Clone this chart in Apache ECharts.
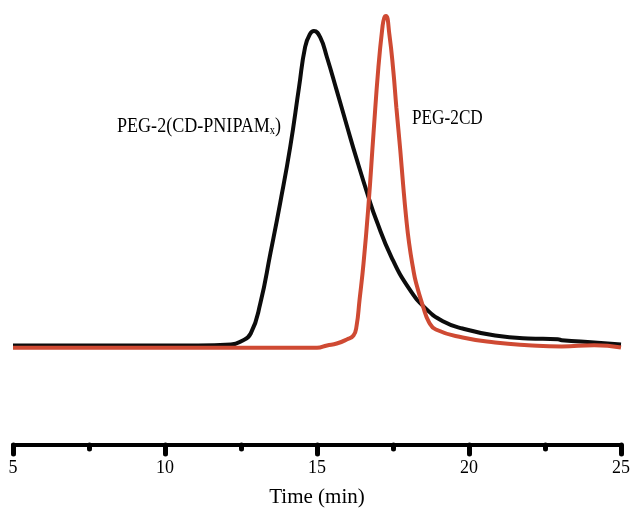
<!DOCTYPE html>
<html>
<head>
<meta charset="utf-8">
<script src="https://cdn.jsdelivr.net/npm/echarts@6/dist/echarts.min.js"></script>
<style>
html,body{margin:0;padding:0;background:#fff;}
#chart{width:633px;height:513px;}
</style>
</head>
<body>
<div id="chart"></div>
<script>
// PEG-2(CD-PNIPAMx) trace (black)
const blackTime = [5, 11.09, 12.17, 12.49, 12.82, 13.14, 13.47, 13.79, 14.12, 14.41, 14.61, 14.77, 14.90, 15.10, 15.33, 15.65, 15.98, 16.30, 16.69, 16.95, 17.44, 18.03, 18.58, 19.14, 19.79, 20.86, 21.94, 22.92, 23.05, 24.12, 25];
const blackSignal = [0.7, 0.7, 1.0, 1.9, 4.3, 13.6, 28.6, 43.7, 60.6, 78.6, 90.7, 94.6, 95.5, 93.7, 87.5, 77.5, 67.0, 57.0, 45.5, 38.5, 27.5, 17.8, 11.8, 8.0, 5.8, 3.7, 2.8, 2.6, 2.3, 1.6, 1.0];
// PEG-2CD trace (red)
const redTime = [5, 10, 15, 15.33, 15.65, 15.98, 16.20, 16.30, 16.40, 16.53, 16.69, 16.86, 17.02, 17.15, 17.21, 17.27, 17.38, 17.51, 17.61, 17.74, 17.83, 17.93, 18.03, 18.16, 18.26, 18.49, 18.68, 18.91, 19.79, 20.86, 21.94, 23.05, 24.12, 25];
const redSignal = [0, 0, 0, 0.7, 1.3, 2.5, 3.7, 6.5, 14.5, 25.4, 42.6, 64.8, 84.6, 96.4, 99.4, 100, 94.5, 83.5, 72.5, 59.5, 49.5, 39.5, 31.5, 24.0, 19.5, 12.4, 7.8, 5.5, 3.1, 1.6, 0.8, 0.4, 0.8, 0.1];
const xTicksMajor = [5, 10, 15, 20, 25];
const labelBlack = 'PEG-2(CD-PNIPAM{sub|x})';
const labelRed = 'PEG-2CD';
const xName = 'Time (min)';

const pair = (xs, ys) => xs.map((x, i) => [x, ys[i]]);

const chart = echarts.init(document.getElementById('chart'), null, {renderer: 'canvas'});
const FONT = '"Liberation Serif", "Times New Roman", serif';

chart.setOption({
  animation: false,
  backgroundColor: '#ffffff',
  grid: {left: 13, right: 6, top: 16, bottom: 65, containLabel: false},
  xAxis: [{
    type: 'value', min: 5, max: 25, interval: 5, position: 'bottom',
    axisLine: {show: true, onZero: false, lineStyle: {color: '#000', width: 4}},
    axisTick: {show: true, length: 9, lineStyle: {color: '#000', width: 5, cap: 'round'}},
    axisLabel: {show: true, margin: 14, color: '#000', fontFamily: FONT, fontSize: 18,
      formatter: v => (xTicksMajor.indexOf(v) >= 0 ? String(v) : '')},
    splitLine: {show: false},
    name: xName, nameLocation: 'middle', nameGap: 42,
    nameTextStyle: {color: '#000', fontFamily: FONT, fontSize: 21}
  }, {
    type: 'value', min: 5, max: 25, interval: 2.5, position: 'bottom', offset: 0,
    axisLine: {show: false, onZero: false},
    axisTick: {show: true, length: 4, lineStyle: {color: '#000', width: 5, cap: 'round'}},
    axisLabel: {show: false},
    splitLine: {show: false}
  }],
  yAxis: {
    type: 'value', min: -29.3, max: 100, show: false, splitLine: {show: false}
  },
  series: [{
    type: 'line', xAxisIndex: 0, data: pair(blackTime, blackSignal),
    smooth: 0.5, showSymbol: false, symbol: 'none',
    lineStyle: {color: '#0c0c0c', width: 4}, z: 2
  }, {
    type: 'line', xAxisIndex: 0, data: pair(redTime, redSignal),
    smooth: 0.5, showSymbol: false, symbol: 'none',
    lineStyle: {color: '#cf4a33', width: 4}, z: 3
  }],
  graphic: [{
    type: 'text', x: 117, y: 126, scaleX: 0.86,
    style: {
      text: labelBlack, fill: '#000', font: '21px ' + FONT,
      align: 'left', verticalAlign: 'middle',
      rich: {sub: {fontSize: 12, fontFamily: FONT, fill: '#000', padding: [10, 0, 0, 0]}}
    }
  }, {
    type: 'text', x: 412, y: 118, scaleX: 0.82,
    style: {text: labelRed, fill: '#000', font: '21px ' + FONT, align: 'left', verticalAlign: 'middle'}
  }]
});
</script>
</body>
</html>
